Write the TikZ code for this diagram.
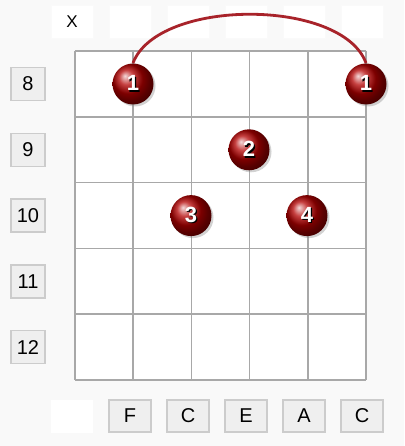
\documentclass[tikz,border=0pt]{standalone}
\usepackage{fontspec}
\setmainfont{Liberation Sans}
\usetikzlibrary{shadows}
\definecolor{bgcol}{HTML}{F9F9F9}
\definecolor{gridcol}{HTML}{A8A8A8}
\definecolor{boxcol}{HTML}{EFEFEF}
\definecolor{boxline}{HTML}{CCCCCC}
\definecolor{barcol}{HTML}{A8232A}
\newcommand{\fingernum}[1]{\rlap{\kern1.3pt\raisebox{-1.3pt}{\color{black}#1}}{\color{white}#1}}
\begin{document}
\begin{tikzpicture}[x=1pt,y=-1pt,
    fretbox/.style={draw=boxline, fill=boxcol, line width=1.5pt, minimum width=34pt, minimum height=33pt, inner sep=0pt, font=\fontsize{20}{20}\selectfont},
    notebox/.style={draw=boxline, fill=boxcol, line width=1.5pt, minimum width=42pt, minimum height=32pt, inner sep=0pt, font=\fontsize{20}{20}\selectfont},
    openbox/.style={draw=black!2, fill=white, line width=1pt, minimum width=42pt, minimum height=33pt, inner sep=0pt, font=\fontsize{17}{17}\selectfont},
    finger/.style={circle, minimum size=41pt, inner sep=0pt, ball color=red!70!black, drop shadow={opacity=0.35, shadow xshift=2pt, shadow yshift=-2pt}, font=\fontsize{22}{22}\selectfont\bfseries}
  ]
  % 画布与背景
  \useasboundingbox (0,0) rectangle (404,446);
  \fill[bgcol] (0,0) rectangle (404,446);

  % 指板参数:弦距与品距
  \def\sx{58.2}  % 弦间距
  \def\fy{65.8}  % 品间距

  % 指板网格
  \fill[white] (75,51) rectangle (366,380);
  \foreach \i in {0,...,5}
    \draw[gridcol, line width=1.6pt] ({75+\i*\sx},51) -- ({75+\i*\sx},380);
  \foreach \j in {0,...,5}
    \draw[gridcol, line width=1.6pt] (75,{51+\j*\fy}) -- (366,{51+\j*\fy});

  % 品位标签
  \foreach \n [count=\j from 0] in {8,9,10,11,12}
    \node[fretbox] (fret\n) at (28,{84+\j*\fy}) {\n};

  % 上方空弦标记
  \node[openbox] (o1) at (72,22) {X};
  \foreach \i in {2,...,6}
    \node[openbox] (o\i) at ({72+(\i-1)*58},22) {};

  % 下方音名
  \node[fill=white, minimum width=42pt, minimum height=33pt] (n1) at (72,416) {};
  \foreach \t [count=\i from 2] in {F,C,E,A,C}
    \node[notebox] (n\i) at ({72+(\i-1)*58},416) {\t};

  % 横按弧线
  \coordinate (barL) at (133,63);
  \coordinate (barR) at (366,63);
  \draw[barcol, line width=2.8pt] (barL) .. controls (158,-2) and (342,-2) .. (barR);

  % 手指位置
  \node[finger] (f1a) at (133,84) {\fingernum{1}};
  \node[finger] (f1b) at (366,84) {\fingernum{1}};
  \node[finger] (f2) at (249,{84+\fy}) {\fingernum{2}};
  \node[finger] (f3) at (191,{84+2*\fy}) {\fingernum{3}};
  \node[finger] (f4) at (307,{84+2*\fy}) {\fingernum{4}};
\end{tikzpicture}
\end{document}
